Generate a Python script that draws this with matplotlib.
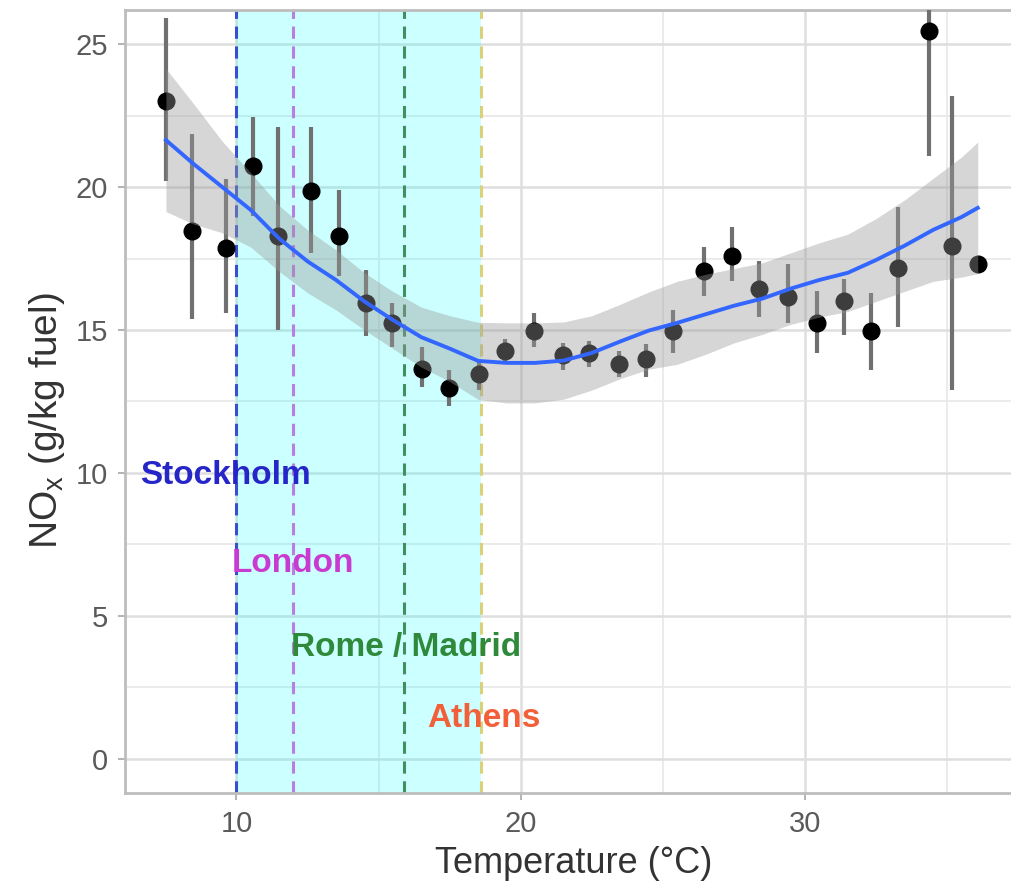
import numpy as np
import matplotlib
matplotlib.use("Agg")
import matplotlib.pyplot as plt

plt.rcParams['font.family'] = ['Liberation Sans', 'DejaVu Sans']
plt.rcParams['mathtext.default'] = 'regular'

# binned means with error bars
temp = [7.52, 8.43, 9.63, 10.58, 11.46, 12.62, 13.6, 14.55, 15.47, 16.53,
        17.47, 18.53, 19.44, 20.46, 21.48, 22.4, 23.45, 24.4, 25.35, 26.44,
        27.42, 28.38, 29.4, 30.4, 31.35, 32.3, 33.25, 34.35, 35.16, 36.07]
nox = [23.0, 18.45, 17.86, 20.74, 18.28, 19.86, 18.28, 15.96, 15.26, 13.65,
       12.98, 13.47, 14.28, 14.95, 14.14, 14.2, 13.82, 14.0, 14.95, 17.05,
       17.58, 16.42, 16.14, 15.26, 16.0, 14.95, 17.16, 25.44, 17.93, 17.3]
nox_lo = [20.2, 15.37, 15.6, 19.0, 15.0, 17.7, 16.9, 14.8, 14.4, 13.0,
          12.35, 12.9, 13.86, 14.4, 13.6, 13.7, 13.37, 13.37, 14.2, 16.2,
          16.7, 15.47, 15.26, 14.2, 14.84, 13.6, 15.1, 21.1, 12.9, 17.3]
nox_hi = [25.9, 21.86, 20.28, 22.46, 22.1, 22.1, 19.9, 17.1, 15.96, 14.4,
          13.6, 13.96, 14.67, 15.6, 14.56, 14.6, 14.25, 14.5, 15.7, 17.9,
          18.6, 17.4, 17.3, 16.35, 16.77, 16.3, 19.3, 26.2, 23.2, 17.3]

# smoothed curve and its confidence band
sm_x = [7.52, 8.5, 9.5, 10.5, 11.5, 12.5, 13.5, 14.5, 15.5, 16.5, 17.5, 18.5,
        19.5, 20.5, 21.5, 22.5, 23.5, 24.5, 25.5, 26.5, 27.5, 28.5, 29.5, 30.5,
        31.5, 32.5, 33.5, 34.5, 35.5, 36.07]
sm_y = [21.64, 20.8, 20.0, 19.2, 18.2, 17.4, 16.75, 16.0, 15.35, 14.75, 14.35, 13.92,
        13.85, 13.85, 13.93, 14.2, 14.6, 14.98, 15.25, 15.55, 15.85, 16.1, 16.45, 16.75,
        17.0, 17.45, 17.95, 18.5, 18.95, 19.27]
sm_half = [2.5, 2.1, 1.6, 1.3, 1.15, 1.1, 1.05, 1.0, 1.0, 1.05, 1.15, 1.35,
           1.4, 1.4, 1.35, 1.3, 1.3, 1.35, 1.45, 1.4, 1.3, 1.25, 1.25, 1.3,
           1.35, 1.45, 1.6, 1.8, 2.1, 2.3]

# city temperatures
cities = ['Stockholm', 'London', 'Rome / Madrid', 'Athens']
city_temp = [10.0, 12.0, 15.9, 18.6]
line_colors = ['#3a4fd0', '#b87ee0', '#3f8f5f', '#d9d27a']
label_colors = ['#2626c8', '#c93ad0', '#2e8a3a', '#f2603a']
label_x = [9.6, 12.0, 15.96, 18.7]
label_y = [9.9, 6.85, 3.9, 1.43]

fig = plt.figure(figsize=(10.12, 8.88), dpi=100)
# panel runs past the right edge (cropped like the original)
ax = fig.add_axes([125 / 1012, 95 / 888, 915 / 1012, 783 / 888])

# grid like theme_light
ax.set_xticks([10, 20, 30])
ax.set_yticks([0, 5, 10, 15, 20, 25])
ax.set_xticks([15, 25, 35], minor=True)
ax.set_yticks([2.5, 7.5, 12.5, 17.5, 22.5], minor=True)
ax.set_xlim(6.08, 38.26)
ax.set_ylim(-1.19, 26.19)
ax.grid(True, which='major', color='#dedede', lw=1.8)
ax.grid(True, which='minor', color='#e6e6e6', lw=1.1)
ax.set_axisbelow(True)
ax.tick_params(which='minor', length=0)
ax.tick_params(which='major', length=5, width=1.4, color='#b3b3b3',
               labelsize=21, labelcolor='#5a5a5a', pad=7)
for s in ax.spines.values():
    s.set_color('#bdbdbd')
    s.set_linewidth(2)

# shaded range
ax.axvspan(city_temp[0], city_temp[-1], color='cyan', alpha=0.2, lw=0, zorder=1)
for t, c in zip(city_temp, line_colors):
    ax.axvline(t, color=c, lw=2.2, ls=(0, (4, 2.5)), zorder=2)

# error bars and points
ax.vlines(temp, nox_lo, nox_hi, color='#707070', lw=3, zorder=3)
ax.plot(temp, nox, 'o', color='black', ms=12, zorder=4)

# smooth + band
lo = np.array(sm_y) - np.array(sm_half)
hi = np.array(sm_y) + np.array(sm_half)
ax.fill_between(sm_x, lo, hi, color='#999999', alpha=0.4, lw=0, zorder=5)
ax.plot(sm_x, sm_y, color='#3366FF', lw=2.8, zorder=6)

for name, x, y, c in zip(cities, label_x, label_y, label_colors):
    ax.text(x, y, name, color=c, fontsize=24, fontweight='bold',
            ha='center', va='center', zorder=7)

ax.set_xlabel('Temperature (°C)', fontsize=26, color='#333333', labelpad=6)
ax.xaxis.label.set_x(0.49)
ax.set_ylabel('NO$_x$ (g/kg fuel)', fontsize=28, color='#333333', labelpad=6)
ax.yaxis.label.set_y(0.476)

fig.savefig('out.png', dpi=100)
